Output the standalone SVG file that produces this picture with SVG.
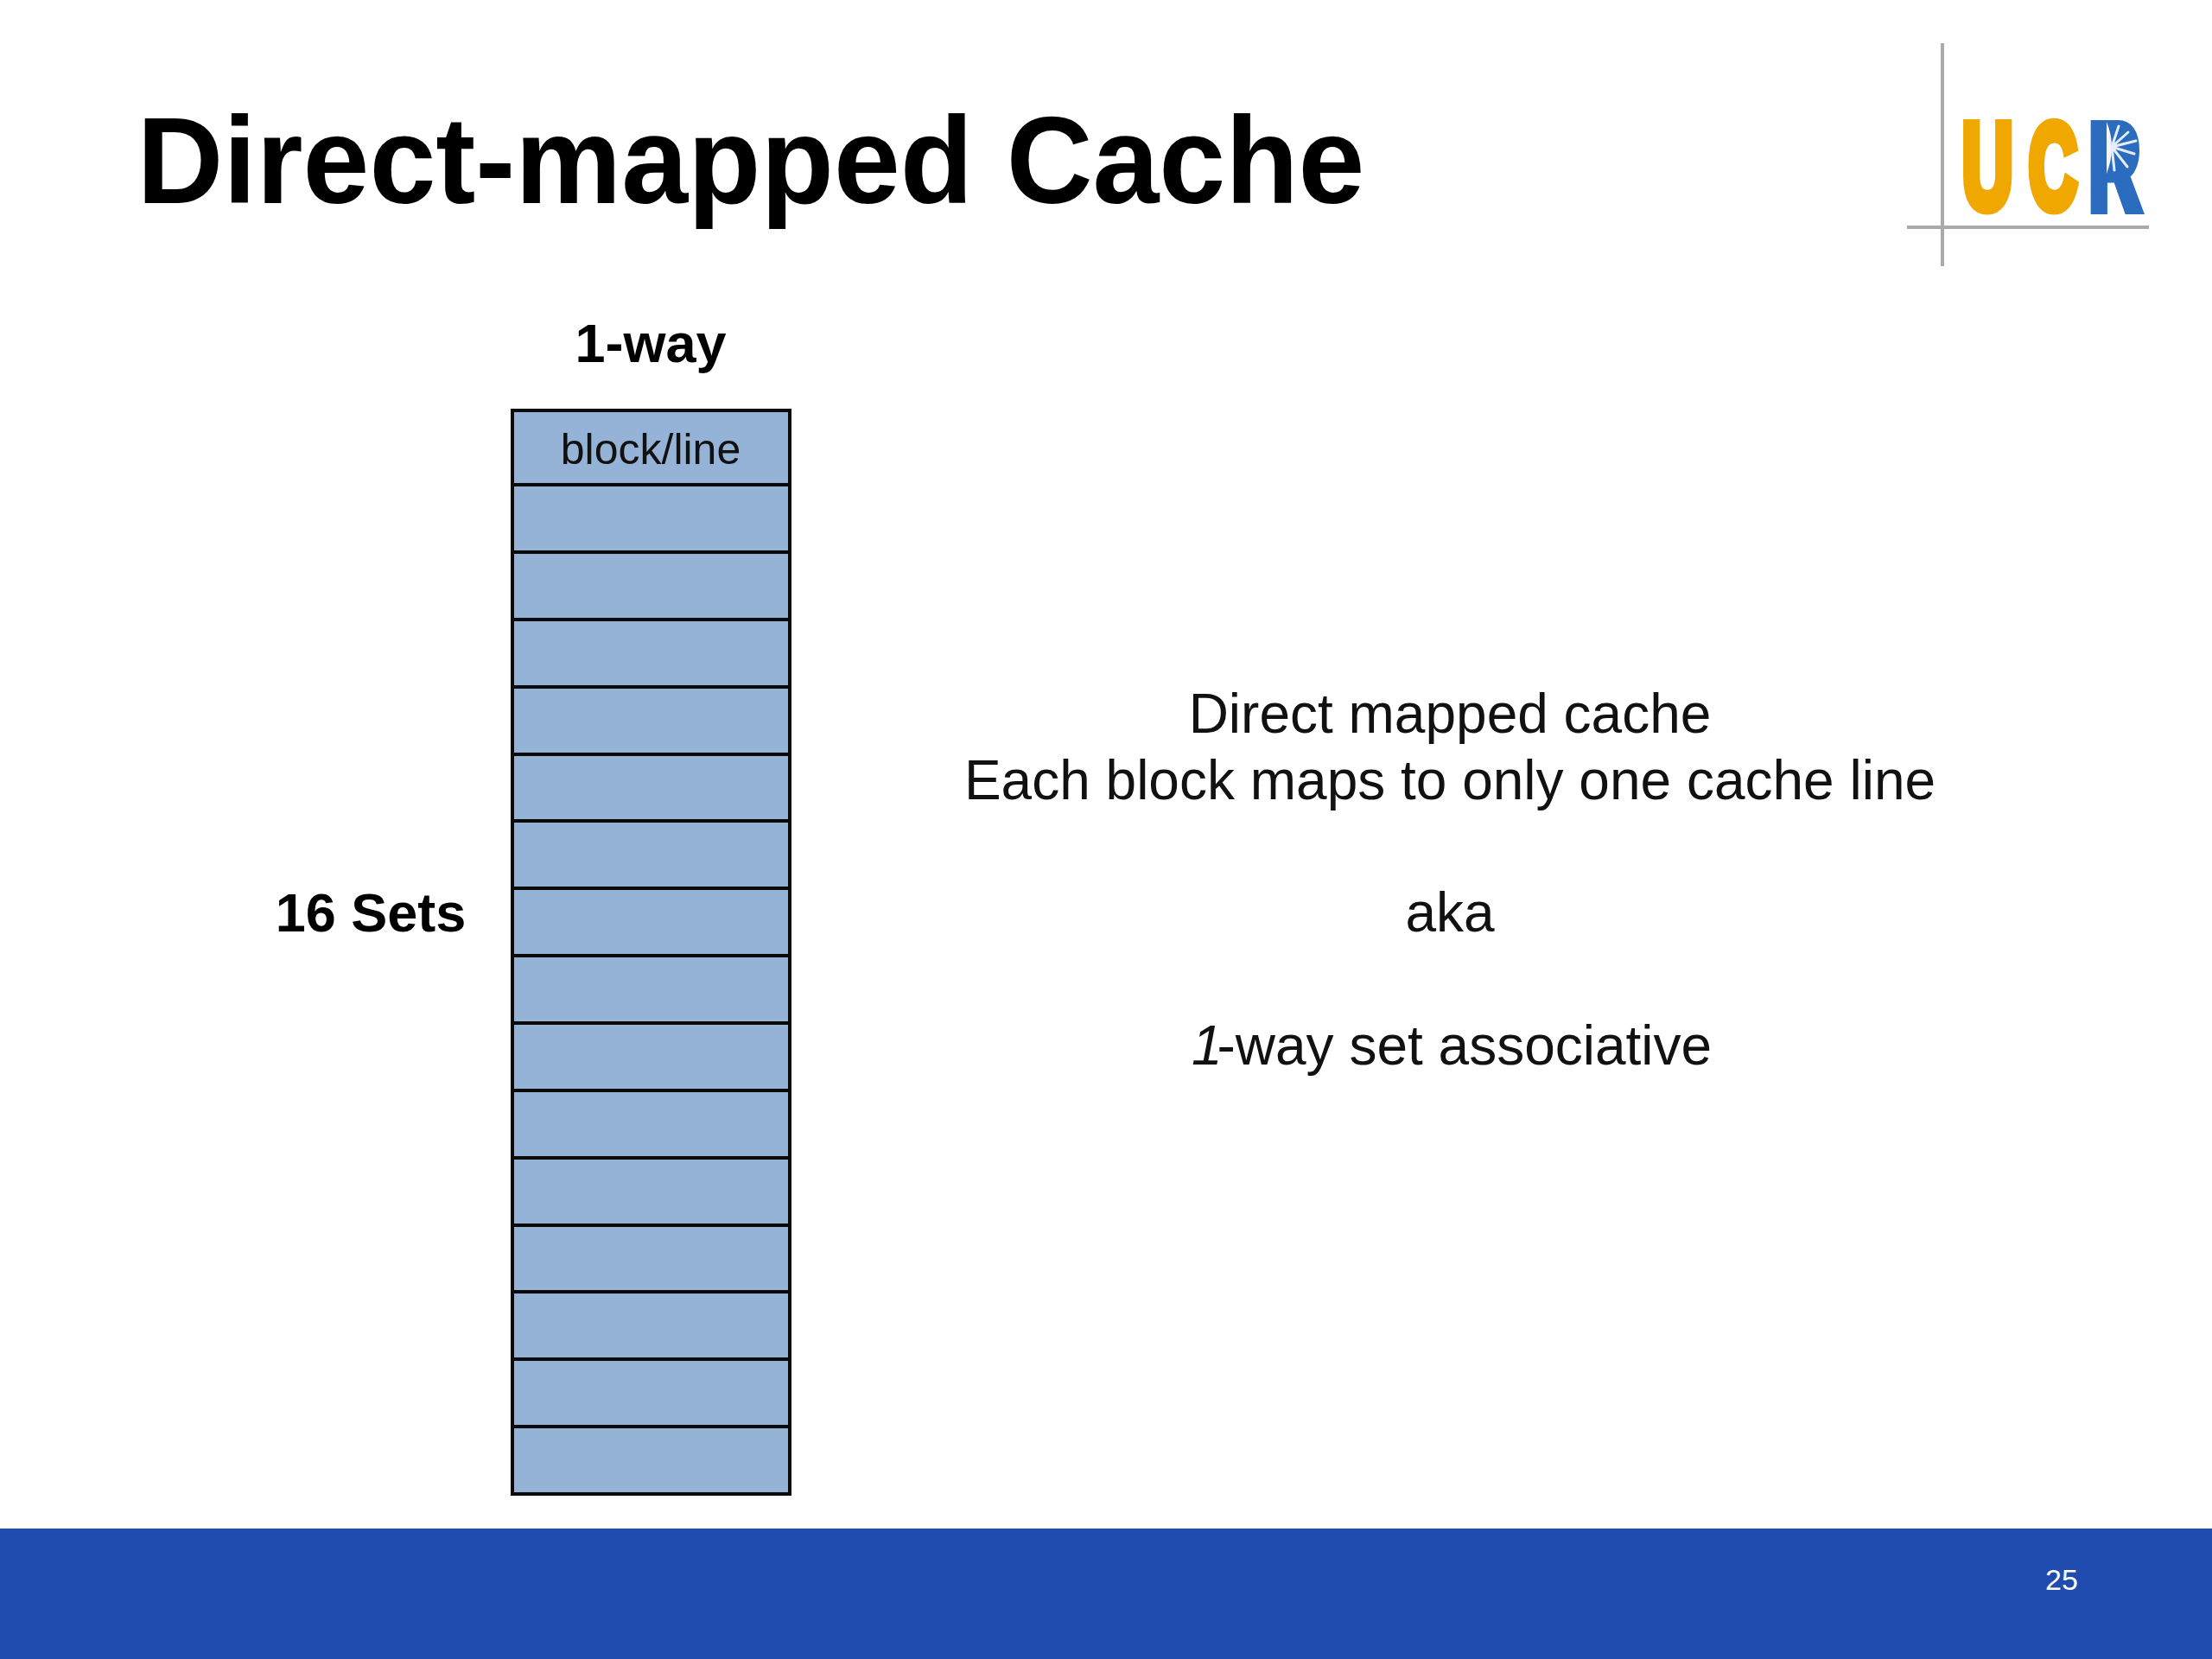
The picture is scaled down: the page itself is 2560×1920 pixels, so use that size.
<svg xmlns="http://www.w3.org/2000/svg" width="2560" height="1920" viewBox="0 0 2560 1920">
<style>
text{font-family:"Liberation Sans",Arial,sans-serif;fill:#000}
.b{font-weight:700}
.r{font-size:64px;text-anchor:middle;fill:#111}
.c{fill:#95b3d7;stroke:#0a0a0a;stroke-width:4}
.g{stroke:#aaa;stroke-width:4;fill:none}
.ray{stroke:#e4edf8;stroke-width:3;stroke-linecap:round}
</style>
<rect width="2560" height="1920" fill="#fff"/>
<text id="title" class="b" x="158.500" y="235" font-size="143" textLength="1421" lengthAdjust="spacingAndGlyphs">Direct-mapped Cache</text>
<g id="logo">
<path class="g" d="M2248 50V308M2207 263H2487"/>
<g class="b" font-size="140" stroke-width="13" stroke-linejoin="miter" stroke-miterlimit="3">
<text transform="translate(2271 240.500) scale(.578 1)" style="fill:#f0a800;stroke:#f0a800">U</text>
<text transform="translate(2348 240.500) scale(.55 1)" style="fill:#f0a800;stroke:#f0a800">C</text>
<text transform="translate(2418 240.500) scale(.58 1)" style="fill:#2b6cbf;stroke:#2b6cbf">R</text>
</g>
<rect x="2436" y="148" width="30" height="46" fill="#2b6cbf"/>
<path d="M2438 141Q2450 170 2438 201Z" fill="#f2f6fb"/>
<path class="ray" d="M2444 170L2452 146M2444 170L2463 153M2444 170L2472 163M2444 170L2470 178M2444 170L2462 193M2444 170L2447 197"/>
</g>
<text id="way-label" class="b" x="753" y="419" font-size="63" text-anchor="middle">1-way</text>
<text id="sets-label" class="b" x="429" y="1078" font-size="63" text-anchor="middle">16 Sets</text>
<g id="cache">
<rect class="c" x="593" y="475" width="321" height="86"/>
<rect class="c" x="593" y="561" width="321" height="78"/>
<rect class="c" x="593" y="639" width="321" height="78"/>
<rect class="c" x="593" y="717" width="321" height="78"/>
<rect class="c" x="593" y="795" width="321" height="78"/>
<rect class="c" x="593" y="873" width="321" height="77"/>
<rect class="c" x="593" y="950" width="321" height="78"/>
<rect class="c" x="593" y="1028" width="321" height="78"/>
<rect class="c" x="593" y="1106" width="321" height="78"/>
<rect class="c" x="593" y="1184" width="321" height="78"/>
<rect class="c" x="593" y="1262" width="321" height="78"/>
<rect class="c" x="593" y="1340" width="321" height="78"/>
<rect class="c" x="593" y="1418" width="321" height="77"/>
<rect class="c" x="593" y="1495" width="321" height="78"/>
<rect class="c" x="593" y="1573" width="321" height="78"/>
<rect class="c" x="593" y="1651" width="321" height="78"/>
<text x="753" y="537" font-size="50" text-anchor="middle" style="fill:#111">block/line</text>
</g>
<g id="description">
<text class="r" x="1678" y="848">Direct mapped cache</text>
<text class="r" x="1678" y="925">Each block maps to only one cache line</text>
<text class="r" x="1678" y="1078">aka</text>
<text class="r" x="1680" y="1232"><tspan font-style="italic" letter-spacing="-6">1</tspan>-way set associative</text>
</g>
<g id="footer">
<rect x="0" y="1769" width="2560" height="151" fill="#204cb0"/>
<text x="2386" y="1840" font-size="34" text-anchor="middle" style="fill:#fff">25</text>
</g>
</svg>
